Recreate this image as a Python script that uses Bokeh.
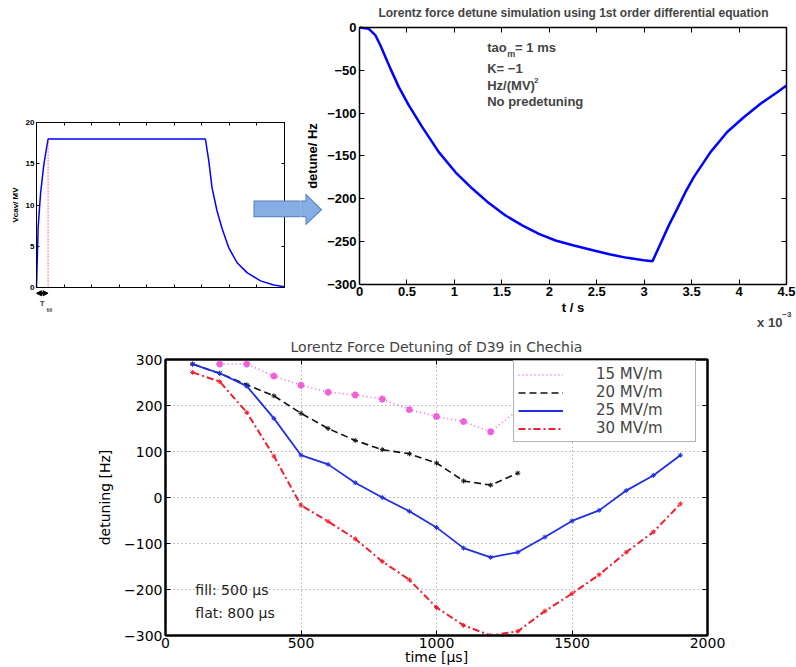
from bokeh.plotting import figure
from bokeh.layouts import column, row
from bokeh.models import (Range1d, LinearAxis, FixedTicker, Label, PolyAnnotation,
                          Arrow, NormalHead, Legend, LegendItem)
from bokeh.embed import file_html
from bokeh.resources import INLINE

# ---------------- data: panel 1 (cavity voltage pulse) ----------------
vcav_t = [0.0, 0.06, 0.145, 0.266, 0.42, 6.13, 6.25, 6.37, 6.55, 6.74, 6.98, 7.28, 7.64, 8.13, 8.61, 9.0]
vcav_v = [0.0, 7.3, 11.3, 14.9, 18.0, 18.0, 15.4, 12.1, 9.3, 7.1, 4.8, 3.0, 1.8, 0.8, 0.3, 0.1]
fill_time = 0.42
flat_level = 18.0
vcav_xticks = [0, 1, 2, 3, 4, 5, 6, 7, 8, 9]
vcav_yticks = [0, 5, 10, 15, 20]
vcav_ylabels = ["0", "5", "10", "15", "20"]

# ---------------- data: panel 2 (simulation) ----------------
sim_t_ms = [0.0, 0.098, 0.169, 0.221, 0.274, 0.327, 0.415, 0.52, 0.66, 0.836, 1.012, 1.188,
            1.363, 1.539, 1.715, 1.89, 2.066, 2.259, 2.47, 2.645, 2.821, 2.996, 3.088,
            3.172, 3.26, 3.348, 3.436, 3.523, 3.699, 3.875, 4.05, 4.226, 4.402, 4.5]
sim_detune = [0, -1.6, -9.3, -21, -34.6, -48.3, -69.6, -91, -116, -145.5, -169, -188,
              -205, -219.5, -231, -241, -248.6, -254.5, -260.3, -265, -268.9, -271.6, -272.8,
              -252.5, -231, -211.7, -192, -174.7, -145.5, -122, -104.7, -89, -75.5, -67.7]
sim_xticks = [0, 0.5, 1, 1.5, 2, 2.5, 3, 3.5, 4, 4.5]
sim_xlabels = ["0", "0.5", "1", "1.5", "2", "2.5", "3", "3.5", "4", "4.5"]
sim_yticks = [0, -50, -100, -150, -200, -250, -300]
sim_ylabels = ["0", "\u221250", "\u2212100", "\u2212150", "\u2212200", "\u2212250", "\u2212300"]

# ---------------- data: panel 3 (measurement) ----------------
t15 = [200, 300, 400, 500, 600, 700, 800, 900, 1000, 1100, 1200, 1300]
d15 = [290, 290, 264, 244, 229, 223, 214, 191, 176, 165, 143, 190]
t20 = [100, 200, 300, 400, 500, 600, 700, 800, 900, 1000, 1100, 1200, 1300]
d20 = [290, 270, 245, 221, 183, 150, 124, 104, 95, 75, 36, 27, 53]
t25 = [100, 200, 300, 400, 500, 600, 700, 800, 900, 1000, 1100, 1200, 1300, 1400, 1500, 1600, 1700, 1800, 1900]
d25 = [290, 270, 242, 172, 92, 72, 32, 0, -30, -65, -110, -130, -119, -86, -51, -28, 15, 48, 92]
t30 = [100, 200, 300, 400, 500, 600, 700, 800, 900, 1000, 1100, 1200, 1300, 1400, 1500, 1600, 1700, 1800, 1900]
d30 = [272, 252, 185, 90, -17, -52, -90, -139, -179, -239, -278, -300, -291, -247, -209, -168, -119, -75, -14]
meas_xticks = [0, 500, 1000, 1500, 2000]
meas_yticks = [-300, -200, -100, 0, 100, 200, 300]
series_labels = ["15 MV/m", "20 MV/m", "25 MV/m", "30 MV/m"]

HEL = "Liberation Sans"
DV = "DejaVu Sans"


def style_axis(ax, tick_len, font, fsize, fstyle, lw):
    ax.major_tick_in = tick_len
    ax.major_tick_out = 0
    ax.minor_tick_line_color = None
    ax.axis_line_color = "black"
    ax.axis_line_width = lw
    ax.major_tick_line_color = "black"
    ax.major_tick_line_width = 1
    ax.major_label_text_font = font
    ax.major_label_text_font_size = fsize
    ax.major_label_text_font_style = fstyle
    ax.major_label_text_color = "black"
    ax.axis_label_text_font = font
    ax.axis_label_text_font_style = fstyle
    ax.axis_label_text_color = "black"
    ax.major_label_standoff = 3


def box_axes(p, xt, yt, box=None, tick_len=4, font=HEL, fsize="8px", fstyle="bold", lw=1):
    bx, ly = p.below[0], p.left[0]
    for ax in (bx, ly):
        style_axis(ax, tick_len, font, fsize, fstyle, lw)
    bx.ticker = FixedTicker(ticks=xt)
    ly.ticker = FixedTicker(ticks=yt)
    extra = {}
    for loc, tk in (("above", xt), ("right", yt)):
        a = LinearAxis(ticker=FixedTicker(ticks=tk))
        style_axis(a, tick_len, font, "0px", fstyle, lw)
        a.major_label_text_color = None
        a.major_label_standoff = 0
        extra[loc] = a
        p.add_layout(a, loc)
    if box is not None:
        x0, x1, y0, y1 = box
        bx.fixed_location, bx.bounds = y0, (x0, x1)
        ly.fixed_location, ly.bounds = x0, (y0, y1)
        extra["above"].fixed_location, extra["above"].bounds = y1, (x0, x1)
        extra["right"].fixed_location, extra["right"].bounds = x1, (y0, y1)
        p.outline_line_color = None
    else:
        p.outline_line_color = "black"
        p.outline_line_width = lw
    return bx, ly


# ================= panel 1 (frame = whole canvas, axes at fixed locations) =================
p1 = figure(width=300, height=330, x_range=Range1d(-1.3064, 9.5806), y_range=Range1d(-5.212, 34.788),
            output_backend="svg", toolbar_location=None, title=None,
            min_border_left=0, min_border_right=0, min_border_top=0, min_border_bottom=0)
p1.grid.visible = False
p1.line(vcav_t, vcav_v, color="#0000ff", line_width=1.5)
p1.segment(x0=[fill_time], y0=[0], x1=[fill_time], y1=[flat_level], color="#ff0000",
           line_dash="1 2", line_width=1)
bx1, ly1 = box_axes(p1, vcav_xticks, vcav_yticks, box=(0, 9, 0, 20), tick_len=3, fsize="8px")
bx1.major_label_text_color = None
bx1.major_label_text_font_size = "0px"
ly1.major_label_overrides = {t: l for t, l in zip(vcav_yticks, vcav_ylabels)}
ly1.major_label_standoff = 2
ly1.axis_label = "Vcav/ MV"
ly1.axis_label_text_font_size = "8px"
ly1.axis_label_standoff = 3
p1.add_layout(Arrow(x_start=0, y_start=-0.7, x_end=fill_time, y_end=-0.7, line_width=2,
                    start=NormalHead(size=5, fill_color="black", line_color="black"),
                    end=NormalHead(size=5, fill_color="black", line_color="black")))
p1.add_layout(Label(x=0.21, y=-1.9, text="T", text_font=HEL, text_font_size="8px",
                    text_font_style="bold", text_align="center", text_baseline="middle"))
p1.add_layout(Label(x=0.36, y=-2.7, text="fill", text_font=HEL, text_font_size="5px",
                    text_font_style="bold", text_align="left", text_baseline="middle"))
# blue block arrow (left part)
p1.add_layout(PolyAnnotation(xs=[7.875, 9.62, 9.62, 7.875], ys=[10.545, 10.545, 8.521, 8.521],
                             fill_color="#4f7fc0", fill_alpha=1, line_alpha=0))
p1.add_layout(PolyAnnotation(xs=[7.911, 9.62, 9.62, 7.911], ys=[10.424, 10.424, 8.642, 8.642],
                             fill_color="#86ade4", fill_alpha=1, line_alpha=0))

# ================= panel 2 =================
p2 = figure(width=496, height=330, x_range=Range1d(-0.6218, 4.6054), y_range=Range1d(-353.7, 31.52),
            output_backend="svg", toolbar_location=None, title=None,
            min_border_left=0, min_border_right=0, min_border_top=0, min_border_bottom=0)
p2.grid.visible = False
p2.line(sim_t_ms, sim_detune, color="#0000ff", line_width=2.5)
bx2, ly2 = box_axes(p2, sim_xticks, sim_yticks, box=(0, 4.5, -300, 0), tick_len=5,
                    fsize="13px", lw=1.5)
bx2.major_label_overrides = {t: l for t, l in zip(sim_xticks, sim_xlabels)}
ly2.major_label_overrides = {t: l for t, l in zip(sim_yticks, sim_ylabels)}
bx2.axis_label = "t / s"
ly2.axis_label = "detune/ Hz"
bx2.axis_label_text_font_size = "13px"
ly2.axis_label_text_font_size = "13px"
bx2.axis_label_standoff = 0
ly2.axis_label_standoff = 4
p2.add_layout(Label(x=2.255, y=17.5, text="Lorentz force detune simulation using 1st order differential equation",
                    text_font=HEL, text_font_size="12px", text_font_style="bold",
                    text_align="center", text_baseline="middle"))
for x, y, txt, fs in [(1.346, -23, "tao", "13px"), (1.556, -31, "m", "9px"),
                      (1.64, -23, "= 1 ms", "13px"), (1.346, -47.5, "K= \u22121", "13px"),
                      (1.346, -67.7, "Hz/(MV)", "13px"), (1.84, -62, "2", "8px"),
                      (1.346, -86, "No predetuning", "13px"),
                      (4.19, -344, "x 10", "13px"), (4.455, -335, "\u22123", "8px")]:
    p2.add_layout(Label(x=x, y=y, text=txt, text_font=HEL, text_font_size=fs,
                        text_font_style="bold", text_align="left", text_baseline="middle"))
# blue block arrow (head part)
p2.add_layout(PolyAnnotation(xs=[-0.63, -0.5691, -0.5691, -0.3931, -0.5691, -0.5691, -0.63],
                             ys=[-201.9, -201.9, -193.4, -212.8, -231.1, -221.4, -221.4],
                             fill_color="#4f7fc0", fill_alpha=1, line_alpha=0))
p2.add_layout(PolyAnnotation(xs=[-0.63, -0.5586, -0.5586, -0.4101, -0.5586, -0.5586, -0.63],
                             ys=[-203.1, -203.1, -196.1, -212.8, -228.5, -220.2, -220.2],
                             fill_color="#86ade4", fill_alpha=1, line_alpha=0))

# ================= panel 3 =================
p3 = figure(width=796, height=337, x_range=Range1d(0, 2000), y_range=Range1d(-300, 300),
            output_backend="svg", toolbar_location=None,
            min_border_left=165, min_border_right=89, min_border_top=29, min_border_bottom=31,
            title="Lorentz Force Detuning of D39 in Chechia")
bx3, ly3 = box_axes(p3, meas_xticks, meas_yticks, tick_len=5, font=DV, fsize="14px",
                    fstyle="normal", lw=2)
for g in (p3.xgrid[0], p3.ygrid[0]):
    g.grid_line_color = "#8a8a8a"
    g.grid_line_dash = "1 3"
    g.grid_line_width = 1
p3.xgrid[0].ticker = FixedTicker(ticks=meas_xticks)
p3.ygrid[0].ticker = FixedTicker(ticks=meas_yticks)
bx3.axis_label = "time [\u00b5s]"
ly3.axis_label = "detuning [Hz]"
bx3.axis_label_text_font_size = "14px"
ly3.axis_label_text_font_size = "14px"
bx3.axis_label_standoff = -2
ly3.axis_label_standoff = 8
bx3.major_label_standoff = 2
p3.title.text_font = DV
p3.title.text_font_size = "14px"
p3.title.text_font_style = "normal"
p3.title.align = "center"
p3.title.standoff = 9

l15 = p3.line(t15, d15, color="#f060d8", line_dash="1 3", line_width=1.5)
p3.scatter(t15, d15, marker="asterisk", size=7, color="#f060d8", line_width=2)
l20 = p3.line(t20, d20, color="#111111", line_dash="7 4", line_width=1.6)
p3.scatter(t20, d20, marker="asterisk", size=5, color="#111111", line_width=1)
l25 = p3.line(t25, d25, color="#2030e0", line_width=1.8)
p3.scatter(t25, d25, marker="asterisk", size=5, color="#2030e0", line_width=1)
l30 = p3.line(t30, d30, color="#ee2030", line_dash="7 3 2 3", line_width=2)
p3.scatter(t30, d30, marker="asterisk", size=5, color="#ee2030", line_width=1)

for x, y, txt in [(110, -200, "fill: 500 \u00b5s"), (110, -252, "flat: 800 \u00b5s")]:
    p3.add_layout(Label(x=x, y=y, text=txt, text_font=DV, text_font_size="14px",
                        text_align="left", text_baseline="middle", text_color="#222222"))

legend = Legend(items=[LegendItem(label=lab, renderers=[r]) for lab, r in
                       zip(series_labels, [l15, l20, l25, l30])],
                location=(348, 193), label_text_font=DV, label_text_font_size="15px",
                glyph_width=45, glyph_height=15, label_height=15, label_width=95,
                label_standoff=33, padding=4, spacing=0, margin=0,
                border_line_color="#666666", border_line_width=1,
                background_fill_color="white", background_fill_alpha=1)
p3.add_layout(legend)

layout = column(row(p1, p2), p3)
open("out.html", "w").write(file_html(layout, INLINE))
